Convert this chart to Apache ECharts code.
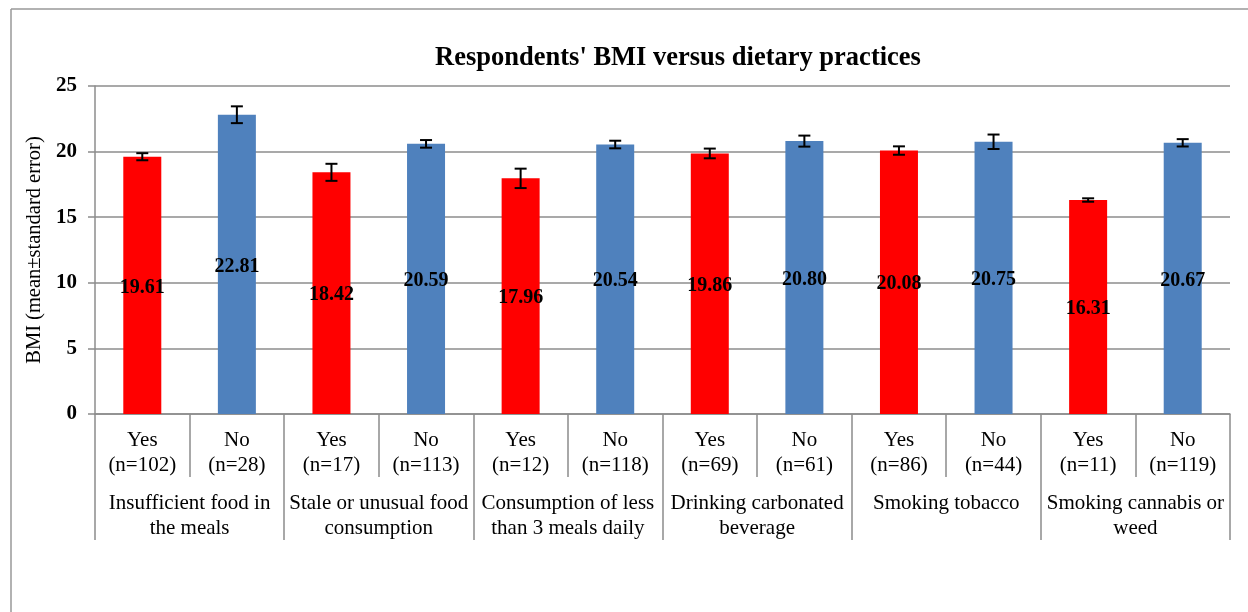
<!DOCTYPE html>
<html>
<head>
<meta charset="utf-8">
<script src="https://cdn.jsdelivr.net/npm/echarts@6/dist/echarts.min.js"></script>
<style>
  html, body { margin: 0; padding: 0; background: #fff; }
  #chart { width: 1248px; height: 612px; }
</style>
</head>
<body>
<div id="chart"></div>
<script>
var categories = ['Yes\n(n=102)', 'No\n(n=28)', 'Yes\n(n=17)', 'No\n(n=113)', 'Yes\n(n=12)', 'No\n(n=118)',
  'Yes\n(n=69)', 'No\n(n=61)', 'Yes\n(n=86)', 'No\n(n=44)', 'Yes\n(n=11)', 'No\n(n=119)'];
var groups = ['Insufficient food in\nthe meals', 'Stale or unusual food\nconsumption', 'Consumption of less\nthan 3 meals daily',
  'Drinking carbonated\nbeverage', 'Smoking tobacco', 'Smoking cannabis or\nweed'];
var means = [19.61, 22.81, 18.42, 20.59, 17.96, 20.54, 19.86, 20.80, 20.08, 20.75, 16.31, 20.67];
var stdErr = [0.27, 0.64, 0.65, 0.29, 0.74, 0.29, 0.37, 0.42, 0.32, 0.55, 0.13, 0.28];
var yTicks = [0, 5, 10, 15, 20, 25];

(function() {
  var chart = echarts.init(document.getElementById('chart'));
  var serif = 'Liberation Serif';
  var grey = '#8c8c8c';

  var errData = means.map((m, i) => [i, m - stdErr[i], m + stdErr[i]]);

  var option = {
    animation: false,
    title: {
      text: "Respondents' BMI versus dietary practices",
      left: 673,
      top: 40,
      textAlign: 'center',
      textStyle: { fontFamily: serif, fontSize: 26.5, fontWeight: 'bold', color: '#000' }
    },
    graphic: [
      { type: 'line', shape: { x1: 11, y1: 9, x2: 1248, y2: 9 }, style: { stroke: '#999', lineWidth: 1.5 } },
      { type: 'line', shape: { x1: 11, y1: 9, x2: 11, y2: 612 }, style: { stroke: '#999', lineWidth: 1.5 } }
    ],
    grid: { left: 95, right: 18, top: 86, bottom: 198, containLabel: false },
    xAxis: [{
      type: 'category',
      data: categories,
      position: 'bottom',
      axisLine: { lineStyle: { color: grey, width: 1.5 } },
      axisTick: { show: true, interval: 0, length: 63, lineStyle: { color: grey, width: 1.5 } },
      axisLabel: {
        interval: 0, margin: 14, lineHeight: 25,
        fontFamily: serif, fontSize: 21, color: '#000'
      }
    }, {
      type: 'category',
      data: groups,
      position: 'bottom',
      offset: 0,
      axisLine: { show: false },
      axisTick: { show: true, interval: 0, length: 126, lineStyle: { color: grey, width: 1.5 } },
      axisLabel: {
        interval: 0, margin: 77, lineHeight: 25,
        fontFamily: serif, fontSize: 21, color: '#000'
      }
    }],
    yAxis: {
      type: 'value',
      min: yTicks[0],
      max: yTicks[yTicks.length - 1],
      interval: 5,
      name: 'BMI (mean±standard error)',
      nameLocation: 'middle',
      nameGap: 45,
      nameTextStyle: { fontFamily: serif, fontSize: 20.5, color: '#000' },
      axisLine: { show: true, lineStyle: { color: grey, width: 1.5 } },
      axisTick: { show: true, length: 7, lineStyle: { color: grey, width: 1.5 } },
      axisLabel: { margin: 18, fontFamily: serif, fontSize: 21, fontWeight: 'bold', color: '#000' },
      splitLine: { lineStyle: { color: grey, width: 1.5 } }
    },
    series: [{
      type: 'bar',
      xAxisIndex: 0,
      barWidth: 38,
      data: means,
      itemStyle: {
        color: function(p) { return p.dataIndex % 2 === 0 ? '#FF0000' : '#4F81BD'; }
      },
      label: {
        show: true,
        position: 'inside',
        offset: [0, 2],
        formatter: function(p) { return p.value.toFixed(2); },
        fontFamily: serif, fontSize: 20, fontWeight: 'bold', color: '#000'
      },
      z: 2
    }, {
      type: 'custom',
      xAxisIndex: 0,
      data: errData,
      z: 5,
      renderItem: function(params, api) {
        var lo = api.coord([api.value(0), api.value(1)]);
        var hi = api.coord([api.value(0), api.value(2)]);
        var w = 6;
        var st = { stroke: '#000', lineWidth: 2 };
        return {
          type: 'group',
          children: [
            { type: 'line', shape: { x1: hi[0], y1: hi[1], x2: lo[0], y2: lo[1] }, style: st },
            { type: 'line', shape: { x1: hi[0] - w, y1: hi[1], x2: hi[0] + w, y2: hi[1] }, style: st },
            { type: 'line', shape: { x1: lo[0] - w, y1: lo[1], x2: lo[0] + w, y2: lo[1] }, style: st }
          ]
        };
      }
    }]
  };
  chart.setOption(option);
})();
</script>
</body>
</html>
